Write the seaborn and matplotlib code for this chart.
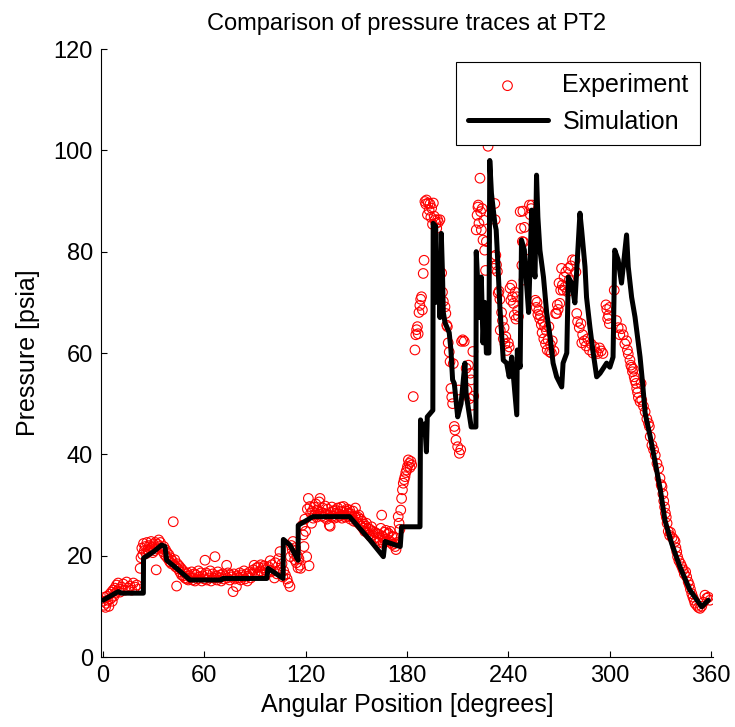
import matplotlib
matplotlib.use("Agg")
import matplotlib.pyplot as plt
import pandas as pd
import seaborn as sns

# ---- Experimental data (angle in degrees, pressure in psia) ----
exp_angle = [
    0, 0.5, 1, 1.5, 2, 2.5, 3, 3.5, 4, 4.5,
    5, 5.5, 6, 6.5, 7, 7.5, 8, 8.5, 9, 9.5,
    10, 11, 12, 13, 14, 15, 16, 17, 18, 19,
    20, 21, 22, 22.5, 23, 23.5, 24, 24.5, 25, 25.5,
    26, 26.5, 27, 27.5, 28, 28.5, 29, 29.5, 30, 30.5,
    31, 31.5, 32, 32.5, 33, 33.5, 34, 35, 35.5, 36,
    36.5, 37, 37.5, 38, 38.5, 39, 39.5, 40, 40.5, 41,
    41.6, 42, 42.5, 43, 43.6, 44, 44.5, 45, 45.5, 46,
    46.5, 47, 47.5, 48, 48.5, 49, 49.5, 50, 50.5, 51,
    52, 52.5, 53, 54, 54.5, 55, 56, 56.5, 57, 58,
    58.5, 59, 60, 60.4, 61, 61.5, 62, 63, 63.5, 64,
    65, 65.5, 66.3, 67, 67.5, 68, 69, 69.5, 70, 71,
    71.5, 72, 73.2, 73.5, 74, 75, 75.5, 76, 77, 77.5,
    78, 79, 79.5, 80, 81, 81.5, 82, 83, 83.5, 84,
    85, 85.5, 86, 87, 87.5, 88, 89, 89.5, 90, 91,
    91.5, 92, 93, 93.5, 94, 95, 95.5, 96, 97, 98,
    99, 99.5, 100, 101, 101.5, 102, 103, 104, 104.8, 105,
    106, 106.5, 107, 108, 109, 109.7, 110.7, 111, 111.5, 112,
    112.5, 113, 113.5, 114, 114.5, 115, 115.5, 116, 116.6, 117,
    118, 118.6, 119, 119.5, 120, 120.6, 121, 121.6, 122, 122.5,
    123, 123.5, 124, 124.5, 125, 125.5, 126, 126.5, 127, 127.5,
    128, 128.5, 129, 129.5, 130, 130.5, 131, 131.5, 132, 132.5,
    133, 133.5, 134, 134.5, 135, 135.5, 136, 136.5, 137, 137.5,
    138, 138.5, 139, 139.5, 140, 140.5, 141, 141.5, 142, 142.5,
    143, 143.5, 144, 144.5, 145, 145.5, 146, 146.5, 147, 147.5,
    148, 148.5, 149, 149.5, 150, 150.5, 151, 151.5, 152, 152.5,
    153, 153.5, 154, 154.5, 155, 155.5, 156, 156.5, 157, 157.5,
    158, 158.5, 159, 159.5, 160, 160.5, 161, 161.5, 162, 162.5,
    163, 163.5, 164, 164.5, 165, 165.5, 166, 166.5, 167, 167.5,
    168, 168.5, 169, 169.5, 170, 170.5, 171, 171.5, 172, 172.5,
    173, 173.5, 174, 174.8, 175.3, 175.8, 176.3, 176.8, 177.3, 177.8,
    178.3, 178.8, 179.3, 179.8, 180.3, 180.8, 181.3, 181.8, 182.3, 182.8,
    183.7, 184.7, 185.2, 185.7, 186.2, 186.6, 187.1, 187.6, 188.1, 188.6,
    189.1, 189.6, 190.1, 190.6, 191.1, 191.6, 192.1, 192.6, 193.1, 193.6,
    194.1, 194.6, 195.1, 195.6, 196.1, 196.6, 197.1, 197.6, 198.1, 198.6,
    199.5, 200.5, 201, 201.5, 202.5, 203, 203.5, 203.9, 204.4, 205,
    205.5, 206, 206.5, 207, 207.4, 208, 208.4, 209, 210, 210.5,
    211, 211.8, 212.3, 213, 213.9, 215, 215.5, 216.4, 217, 217.5,
    218, 218.5, 219, 219.5, 221, 221.5, 222, 222.2, 222.6, 223.2,
    223.6, 224, 224.5, 225, 225.5, 226, 226.5, 227, 228, 231,
    231.4, 232, 232.2, 232.6, 233, 233.5, 234, 234.5, 235, 235.2,
    236, 236.5, 237, 237.5, 238, 238.5, 239, 240, 240.5, 241,
    241.5, 242, 242.5, 243, 243.5, 244, 244.5, 245, 245.5, 246,
    247, 247.5, 248, 248.3, 248.6, 249, 249.3, 249.6, 250, 252.5,
    253, 253.5, 254, 256, 256.5, 257, 257.5, 258, 258.5, 259,
    259.5, 260, 260.5, 261, 261.5, 262, 262.5, 263, 263.5, 264,
    264.5, 265, 265.5, 266, 267, 268, 268.6, 269, 269.5, 270,
    270.5, 271, 271.5, 272, 272.5, 273, 273.5, 274, 275, 275.5,
    276, 277, 278, 279.5, 280, 280.5, 281, 282, 283, 283.5,
    284, 285, 286, 287, 288, 289, 290, 291, 292, 293,
    294, 295, 296, 297.8, 298.3, 298.8, 299.3, 299.8, 300, 302.7,
    304, 305, 306, 307, 308, 309, 310, 310.5, 311, 312,
    312.5, 313, 313.5, 314, 314.5, 315, 315.6, 316, 316.5, 317,
    318, 318.6, 319, 320, 321, 322, 323, 323.5, 324, 325,
    326, 327, 328, 329, 329.8, 330.5, 331, 331.5, 332, 332.5,
    333, 333.5, 334, 334.7, 335.5, 336, 337, 338, 338.7, 339.2,
    339.7, 340.2, 341, 342, 342.8, 343.5, 344.2, 345, 345.6, 346.5,
    347.2, 347.8, 348.6, 349.3, 350, 350.5, 351.5, 352.5, 353.5, 354.5,
    355.5, 356.4, 357.4, 358.4, 359.4,
]
exp_pressure = [
    11.0, 10.2, 11.8, 9.8, 10.6, 12.0, 11.2, 10.0, 12.4, 11.5,
    12.8, 11.0, 13.2, 12.0, 13.6, 12.6, 14.2, 13.0, 14.6, 13.4,
    12.8, 13.8, 14.4, 13.2, 14.8, 13.6, 14.0, 13.2, 14.6, 13.8,
    14.2, 13.4, 17.5, 19.6, 21.5, 20.2, 22.4, 21.0, 21.8, 20.4,
    22.6, 21.2, 20.8, 22.0, 21.4, 22.8, 21.6, 20.6, 22.2, 21.0,
    22.6, 17.2, 21.4, 22.2, 23.1, 21.8, 22.6, 21.4, 20.8, 21.8,
    20.2, 21.2, 19.8, 20.6, 19.4, 20.2, 18.8, 19.6, 18.4, 19.0,
    26.7, 18.2, 19.2, 17.8, 14.0, 18.4, 17.4, 18.0, 16.8, 17.6,
    16.2, 17.2, 16.0, 16.8, 15.6, 16.4, 15.4, 16.6, 15.2, 16.0,
    15.6, 16.8, 15.2, 16.4, 15.0, 16.2, 15.4, 17.0, 15.8, 16.6,
    15.0, 16.0, 15.4, 19.1, 16.6, 15.2, 16.2, 15.6, 17.0, 15.0,
    16.4, 15.6, 19.8, 16.0, 15.2, 16.8, 15.6, 16.2, 15.0, 16.4,
    15.4, 16.0, 18.1, 15.6, 16.6, 15.2, 16.2, 15.8, 12.9, 16.4,
    15.4, 13.9, 16.0, 15.6, 16.6, 15.2, 16.2, 15.8, 17.0, 15.4,
    16.4, 15.0, 16.0, 16.8, 15.6, 16.4, 17.2, 18.1, 16.6, 17.6,
    16.2, 17.8, 17.0, 18.2, 16.8, 17.6, 18.0, 17.2, 16.6, 17.8,
    19.0, 16.8, 18.2, 17.0, 15.6, 18.6, 16.4, 19.4, 20.8, 17.2,
    18.4, 15.8, 17.0, 16.2, 15.4, 14.6, 13.9, 19.8, 22.0, 21.2,
    22.8, 20.4, 19.2, 21.6, 18.6, 20.0, 17.6, 19.4, 18.1, 17.5,
    26.0, 24.1, 21.8, 27.2, 24.8, 19.8, 29.2, 31.3, 18.0, 29.7,
    28.4, 26.4, 28.8, 27.4, 29.6, 28.0, 30.2, 27.6, 29.0, 28.2,
    30.6, 31.3, 28.6, 27.8, 29.4, 28.4, 27.6, 29.8, 28.2, 27.2,
    29.2, 28.0, 26.0, 25.8, 28.6, 29.6, 27.8, 28.8, 27.4, 29.0,
    28.4, 27.6, 29.4, 28.2, 27.8, 28.8, 29.6, 27.4, 28.6, 29.7,
    28.0, 27.6, 28.8, 29.2, 27.8, 28.4, 29.0, 27.2, 28.2, 27.6,
    28.8, 26.8, 27.8, 29.4, 27.4, 26.6, 27.6, 28.0, 26.2, 27.2,
    25.8, 26.8, 25.4, 26.2, 24.8, 25.8, 26.4, 24.6, 25.4, 24.2,
    25.2, 23.8, 25.7, 24.0, 24.8, 23.4, 24.6, 22.8, 24.4, 23.6,
    22.6, 24.2, 23.1, 25.4, 28.0, 23.8, 22.4, 24.6, 23.2, 25.0,
    22.8, 24.2, 24.4, 23.0, 24.8, 22.6, 23.8, 22.2, 23.7, 22.4,
    21.8, 21.2, 22.6, 27.7, 26.4, 25.2, 29.0, 31.3, 33.0, 34.3,
    35.0, 35.6, 36.4, 36.9, 37.6, 38.9, 38.2, 37.4, 38.6, 37.9,
    51.4, 60.6, 63.6, 64.6, 65.2, 63.8, 68.0, 69.4, 70.6, 71.1,
    68.5, 75.7, 78.3, 89.9, 89.4, 90.2, 87.3, 89.6, 88.2, 89.4,
    86.8, 88.6, 85.4, 89.6, 87.0, 86.3, 85.6, 84.6, 86.3, 85.8,
    86.3, 75.8, 72.0, 70.2, 69.1, 67.8, 65.5, 65.2, 62.0, 60.2,
    58.3, 53.0, 51.3, 50.0, 57.9, 45.5, 44.8, 42.8, 41.5, 52.7,
    40.2, 40.9, 62.3, 62.6, 62.3, 57.0, 52.7, 57.6, 51.0, 56.0,
    54.7, 49.7, 60.3, 51.5, 84.3, 87.2, 88.8, 89.2, 85.6, 94.5,
    87.9, 84.3, 88.5, 82.3, 86.2, 80.3, 76.3, 82.0, 100.8, 79.0,
    76.7, 89.5, 86.3, 79.3, 77.4, 76.1, 71.8, 72.2, 70.6, 64.5,
    68.0, 66.4, 62.8, 65.0, 61.8, 63.2, 60.5, 62.0, 61.2, 72.8,
    70.4, 73.4, 71.1, 69.8, 67.5, 72.0, 66.7, 71.1, 68.4, 67.2,
    87.9, 84.6, 77.3, 82.0, 88.0, 81.9, 74.4, 84.8, 78.6, 89.2,
    87.3, 88.5, 89.2, 70.4, 69.0, 70.0, 67.6, 68.4, 66.8, 67.4,
    65.6, 64.0, 66.2, 62.8, 65.2, 61.8, 64.4, 60.6, 62.6, 65.2,
    60.2, 61.6, 60.0, 62.4, 60.4, 67.8, 67.8, 69.5, 68.6, 73.8,
    69.8, 72.4, 76.7, 73.4, 72.4, 75.0, 73.0, 76.0, 72.1, 76.7,
    74.4, 77.2, 78.4, 78.3, 76.0, 67.8, 66.2, 65.0, 65.8, 62.0,
    63.6, 62.4, 61.4, 62.8, 60.6, 61.8, 60.0, 61.2, 60.2, 59.9,
    61.0, 60.4, 59.9, 69.5, 68.6, 66.8, 67.4, 65.8, 69.0, 72.4,
    66.4, 65.0, 63.6, 64.8, 63.6, 61.8, 62.4, 60.6, 59.8, 58.6,
    57.6, 57.2, 56.3, 56.8, 55.3, 54.6, 54.0, 53.0, 52.2, 51.2,
    50.4, 54.0, 50.7, 49.5, 48.4, 47.0, 46.1, 45.5, 43.5, 41.8,
    40.9, 39.8, 38.2, 37.2, 35.3, 34.0, 33.6, 32.2, 30.8, 29.6,
    28.4, 27.6, 26.4, 24.8, 24.0, 24.6, 23.6, 23.2, 22.8, 21.6,
    20.8, 19.8, 19.0, 18.4, 17.8, 17.2, 16.4, 16.8, 15.8, 14.8,
    14.2, 13.4, 12.5, 11.8, 11.2, 10.6, 10.2, 9.8, 9.6, 10.0,
    10.8, 12.2, 11.6, 11.8, 11.2,
]

# ---- Simulation trace ----
sim_angle = [
    0, 9, 11, 23.9, 24.0, 30, 34.7, 36.7, 37.7, 43.6,
    51.5, 70, 71, 97, 97.7, 100, 106.6, 106.8, 110.7, 115.5,
    115.6, 124.3, 146, 158, 166, 167, 176, 176.8, 187.7, 188,
    189.5, 190.5, 191.5, 192, 195.3, 195.5, 197, 197.5, 198.5, 199.5,
    200.3, 201, 201.5, 202.5, 205, 206, 207, 208, 210, 212,
    214.3, 215, 218, 220.8, 221, 222, 223, 224, 225, 226,
    227, 228.5, 229, 230, 232, 232.8, 233.6, 235, 237, 239,
    240.5, 242, 245, 245.3, 247, 247.8, 249.5, 250.5, 252, 253.8,
    254.5, 255.8, 256.7, 257.5, 258.7, 260.8, 262.7, 264.7, 266.5, 268.6,
    271.6, 272.4, 274.6, 275.5, 277.5, 279.4, 282.4, 283.4, 285.4, 286.3,
    288.3, 290, 292.3, 294.3, 298.2, 300.1, 302, 303, 305, 307,
    310, 311, 313, 315, 318, 319.5, 321, 324, 327, 330,
    332.7, 336.7, 341.6, 347.5, 354.5, 358.4,
]
sim_pressure = [
    11.2, 12.9, 12.6, 12.6, 19.5, 20.8, 22.1, 21.8, 19.1, 17.5,
    15.2, 15.2, 15.5, 15.5, 17.5, 17.0, 15.5, 23.2, 22.1, 19.1,
    26.0, 27.7, 27.7, 23.1, 19.8, 22.8, 21.8, 25.7, 25.7, 46.8,
    44.0, 46.0, 40.5, 47.4, 48.7, 85.6, 85.0, 70.0, 78.0, 67.0,
    83.6, 75.8, 68.0, 66.0, 64.0, 60.6, 54.7, 54.0, 47.4, 50.0,
    58.0, 52.0, 45.4, 45.4, 80.0, 73.0, 67.0, 75.0, 62.0, 70.0,
    60.0, 60.0, 98.0, 91.5, 85.6, 84.3, 79.0, 69.0, 58.6, 58.0,
    55.3, 59.2, 47.8, 60.6, 57.2, 82.3, 80.3, 75.0, 68.0, 88.2,
    78.4, 75.0, 95.1, 86.8, 80.3, 75.0, 67.9, 63.2, 58.0, 55.3,
    53.3, 58.0, 60.0, 75.0, 73.8, 69.9, 87.6, 84.3, 77.0, 71.0,
    65.1, 60.6, 55.3, 56.0, 58.0, 57.2, 59.2, 80.3, 78.4, 73.8,
    83.3, 77.0, 71.0, 67.1, 59.2, 54.0, 48.1, 43.5, 38.3, 33.0,
    27.0, 22.4, 17.8, 13.2, 9.9, 11.2,
]

x_ticks = [0, 60, 120, 180, 240, 300, 360]
y_ticks = [0, 20, 40, 60, 80, 100, 120]

sns.set_theme(style="white")
plt.rcParams["font.family"] = ["Liberation Sans", "DejaVu Sans"]
plt.rcParams["text.color"] = "black"
plt.rcParams["axes.labelcolor"] = "black"
plt.rcParams["xtick.color"] = "black"
plt.rcParams["ytick.color"] = "black"

fig = plt.figure(figsize=(7.35, 7.27), dpi=100)
W, H = 735, 727
ax_left, ax_right, ax_top, ax_bottom = 101.3, 712.7, 49, 657
ax = fig.add_axes([ax_left / W, 1 - ax_bottom / H,
                   (ax_right - ax_left) / W, (ax_bottom - ax_top) / H])

exp_df = pd.DataFrame({"angle": exp_angle, "pressure": exp_pressure})
sim_df = pd.DataFrame({"angle": sim_angle, "pressure": sim_pressure})

sns.scatterplot(data=exp_df, x="angle", y="pressure", ax=ax, marker="o",
                s=48, facecolor="none", edgecolor="red", linewidth=0.8,
                label="Experiment", zorder=2)
sns.lineplot(data=sim_df, x="angle", y="pressure", ax=ax, sort=False,
             estimator=None, color="black", linewidth=3.6,
             label="Simulation", zorder=3)

ax.set_xlim(-1, 361)
ax.set_ylim(0, 120)
ax.set_xticks(x_ticks)
ax.set_yticks(y_ticks)
ax.tick_params(direction="in", length=4, width=0.8, labelsize=17,
               colors="black", left=True, bottom=True, pad=6)
for side in ["top", "right"]:
    ax.spines[side].set_visible(False)
for side in ["left", "bottom"]:
    ax.spines[side].set_color("black")
    ax.spines[side].set_linewidth(0.8)

ax.set_xlabel("Angular Position [degrees]", fontsize=18, color="black", labelpad=4)
ax.set_ylabel("Pressure [psia]", fontsize=18, color="black", labelpad=10)
ax.set_title("Comparison of pressure traces at PT2", fontsize=17, color="black", pad=14)

leg = ax.legend(loc="upper right", bbox_to_anchor=((700 - ax_left) / (ax_right - ax_left),
                                                   (ax_bottom - 62) / (ax_bottom - ax_top)),
                borderaxespad=0, frameon=True, fancybox=False, framealpha=1,
                edgecolor="black", fontsize=18, handlelength=3.2,
                labelspacing=0.5, borderpad=0.45, handletextpad=0.6)
leg.get_frame().set_linewidth(0.8)
for t in leg.get_texts():
    t.set_color("black")

fig.savefig("out.png", dpi=100)
